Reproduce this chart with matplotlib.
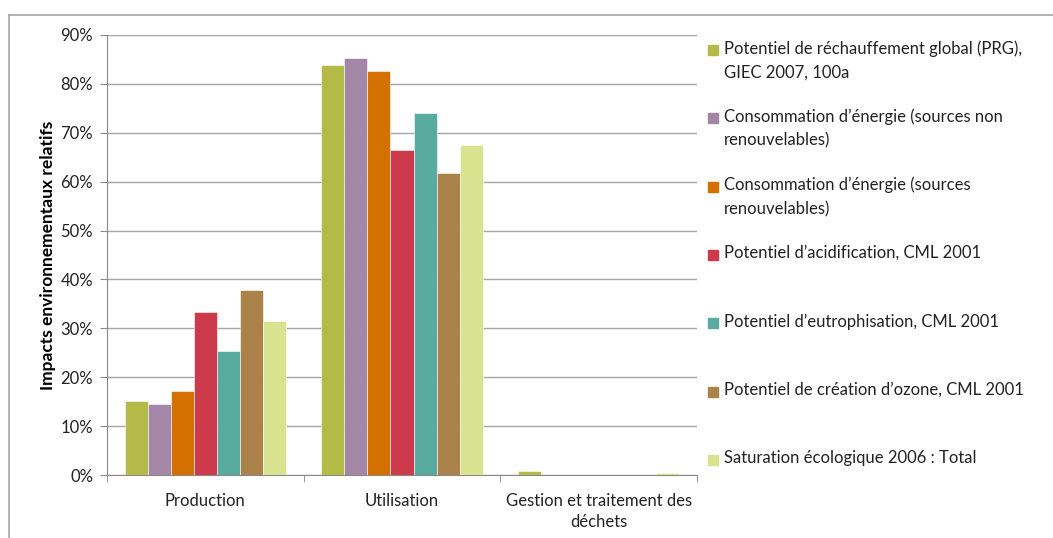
import matplotlib
matplotlib.use("Agg")
import matplotlib.pyplot as plt
from matplotlib.lines import Line2D
from matplotlib.patches import Rectangle
from matplotlib.ticker import FuncFormatter, FixedLocator
import numpy as np

plt.rcParams["font.family"] = ["Lato", "DejaVu Sans"]

categories = ["Production", "Utilisation", "Gestion et traitement des\ndéchets"]
series_labels = [
    "Potentiel de réchauffement global (PRG),\nGIEC 2007, 100a",
    "Consommation d\u2019énergie (sources non\nrenouvelables)",
    "Consommation d\u2019énergie (sources\nrenouvelables)",
    "Potentiel d\u2019acidification, CML 2001",
    "Potentiel d\u2019eutrophisation, CML 2001",
    "Potentiel de création d\u2019ozone, CML 2001",
    "Saturation écologique 2006 : Total",
]
colors = ["#B4BA48", "#A487A6", "#D47000", "#CC3A4B", "#5AAB9F", "#AA824A", "#D9E28F"]

# values in %, one list per series (Production, Utilisation, Gestion)
prg = [15.1, 83.9, 0.8]
energie_nr = [14.6, 85.2, 0.0]
energie_r = [17.1, 82.7, 0.0]
acidification = [33.4, 66.5, 0.0]
eutrophisation = [25.4, 74.1, 0.0]
ozone = [37.9, 61.8, 0.0]
saturation = [31.5, 67.6, 0.5]
series = [prg, energie_nr, energie_r, acidification, eutrophisation, ozone, saturation]

fig = plt.figure(figsize=(10.53, 5.38), dpi=100)
ax = fig.add_axes([107 / 1053, 1 - 475 / 538, 590 / 1053, 440 / 538])

x = np.arange(len(categories))
width = 0.117
for i, (vals, col) in enumerate(zip(series, colors)):
    offs = (i - 3) * width
    ax.bar(x + offs, vals, width, color=col, edgecolor="white", linewidth=0.4, zorder=3)

ax.set_xlim(-0.5, 2.5)
ax.set_ylim(0, 90)
ax.set_yticks(np.arange(0, 91, 10))
ax.yaxis.set_major_formatter(FuncFormatter(lambda v, p: f"{v:.0f}%"))
ax.grid(axis="y", color="#A6A6A6", linewidth=1.0, zorder=0)
ax.set_xticks(x)
ax.set_xticklabels(categories, fontsize=12, color="#222222", linespacing=1.35)
ax.tick_params(axis="x", length=0, pad=13)
ax.xaxis.set_minor_locator(FixedLocator([-0.5, 0.5, 1.5, 2.5]))
ax.tick_params(axis="x", which="minor", length=5, color="#888888")
ax.tick_params(axis="y", length=5, color="#888888", labelsize=12, labelcolor="#222222", pad=5)
for s in ["top", "right"]:
    ax.spines[s].set_visible(False)
for s in ["left", "bottom"]:
    ax.spines[s].set_color("#888888")
ax.set_ylabel("Impacts environnementaux relatifs", fontsize=12.5, fontweight="bold", labelpad=3)

# legend drawn by hand to keep the even spacing of the original
W, H = 1053, 538
for i, (lab, col) in enumerate(zip(series_labels, colors)):
    y = 50 + i * 68.3
    fig.patches.append(Rectangle((708 / W, 1 - (y + 5) / H), 10 / W, 10 / H,
                                 transform=fig.transFigure, color=col))
    fig.text(724 / W, 1 - (y - 10) / H, lab, fontsize=12, va="top", ha="left",
             color="#222222", linespacing=1.6)

# chart area border
fig.lines.append(Line2D([9 / W, 9 / W], [0, 1 - 15 / H], transform=fig.transFigure,
                        color="#A6A6A6", linewidth=1.2))
fig.lines.append(Line2D([9 / W, 1], [1 - 15 / H, 1 - 15 / H], transform=fig.transFigure,
                        color="#A6A6A6", linewidth=1.2))

fig.savefig("out.png", dpi=100)
